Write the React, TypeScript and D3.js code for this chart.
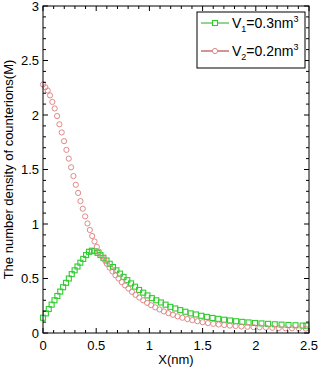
import React from "react";
import * as d3 from "d3";

// V1 = 0.3 nm^3 (green squares)
const v1X = [0, 0.027, 0.054, 0.081, 0.108, 0.135, 0.162, 0.189, 0.216, 0.243, 0.27, 0.297, 0.324, 0.351, 0.378, 0.405, 0.432, 0.459, 0.486, 0.513, 0.54, 0.568, 0.597, 0.627, 0.658, 0.69, 0.723, 0.757, 0.792, 0.828, 0.865, 0.903, 0.942, 0.982, 1.023, 1.065, 1.108, 1.152, 1.197, 1.243, 1.29, 1.338, 1.387, 1.437, 1.488, 1.54, 1.593, 1.647, 1.702, 1.758, 1.815, 1.873, 1.932, 1.992, 2.053, 2.115, 2.178, 2.242, 2.307, 2.373, 2.44, 2.475];
const v1Y = [0.14, 0.18, 0.22, 0.26, 0.3, 0.34, 0.38, 0.42, 0.46, 0.5, 0.54, 0.575, 0.61, 0.645, 0.68, 0.715, 0.745, 0.755, 0.75, 0.735, 0.715, 0.69, 0.665, 0.635, 0.605, 0.575, 0.545, 0.515, 0.485, 0.455, 0.425, 0.395, 0.37, 0.345, 0.32, 0.3, 0.28, 0.26, 0.24, 0.225, 0.21, 0.195, 0.18, 0.17, 0.158, 0.148, 0.138, 0.13, 0.122, 0.115, 0.108, 0.102, 0.097, 0.092, 0.088, 0.084, 0.08, 0.077, 0.074, 0.071, 0.068, 0.067];

// V2 = 0.2 nm^3 (red circles)
const v2X = [0, 0.022, 0.044, 0.066, 0.088, 0.11, 0.132, 0.154, 0.176, 0.198, 0.22, 0.242, 0.264, 0.286, 0.308, 0.33, 0.352, 0.374, 0.396, 0.418, 0.44, 0.462, 0.484, 0.506, 0.528, 0.551, 0.575, 0.6, 0.626, 0.653, 0.681, 0.71, 0.74, 0.771, 0.803, 0.836, 0.87, 0.905, 0.941, 0.978, 1.016, 1.055, 1.095, 1.136, 1.178, 1.221, 1.265, 1.31, 1.356, 1.403, 1.451, 1.5, 1.55, 1.6, 1.651, 1.703, 1.756, 1.81, 1.865, 1.921, 1.978, 2.036, 2.095, 2.155, 2.216, 2.278, 2.341, 2.405, 2.47];
const v2Y = [2.28, 2.255, 2.225, 2.18, 2.12, 2.06, 1.99, 1.915, 1.84, 1.76, 1.68, 1.6, 1.52, 1.44, 1.36, 1.285, 1.21, 1.14, 1.07, 1.005, 0.945, 0.89, 0.84, 0.79, 0.745, 0.707, 0.672, 0.635, 0.6, 0.565, 0.53, 0.5, 0.467, 0.437, 0.408, 0.378, 0.35, 0.325, 0.3, 0.277, 0.255, 0.235, 0.216, 0.198, 0.182, 0.167, 0.153, 0.14, 0.128, 0.118, 0.108, 0.099, 0.091, 0.084, 0.078, 0.073, 0.068, 0.064, 0.06, 0.057, 0.054, 0.052, 0.05, 0.048, 0.046, 0.044, 0.043, 0.041, 0.04];

const xTicks = [0, 0.5, 1, 1.5, 2, 2.5];
const yTicks = [0, 0.5, 1, 1.5, 2, 2.5, 3];

const W = 326;
const H = 374;
const margin = { top: 6, right: 17, bottom: 41, left: 43 };
const font = "'Liberation Sans', Arial, sans-serif";

export default function App() {
  const x = d3.scaleLinear().domain([0, 2.5]).range([margin.left, W - margin.right]);
  const y = d3.scaleLinear().domain([0, 3]).range([H - margin.bottom, margin.top]);
  const [x0, x1] = x.range();
  const [y0, y1] = y.range();

  const xMinor = d3.range(0, 2.5001, 0.1);
  const yMinor = d3.range(0, 3.0001, 0.1);

  const green = "#2fcc2f";
  const pink = "#e08a8a";

  return (
    <svg width={W} height={H} style={{ position: "absolute", left: 0, top: 0, background: "#fff" }} fontFamily={font}>
      {/* markers */}
      <g fill="none" stroke={green} strokeWidth={1.1}>
        {v1X.map((v, i) => (
          <rect key={i} x={x(v) - 2.5} y={y(v1Y[i]) - 2.5} width={5} height={5} />
        ))}
      </g>
      <g fill="none" stroke={pink} strokeWidth={1}>
        {v2X.map((v, i) => (
          <circle key={i} cx={x(v)} cy={y(v2Y[i])} r={2.6} />
        ))}
      </g>

      {/* frame */}
      <rect x={x0} y={y1} width={x1 - x0} height={y0 - y1} fill="none" stroke="#000" strokeWidth={1} />
      <g stroke="#000" strokeWidth={1}>
        {xMinor.map((t, i) => {
          const len = xTicks.some((m) => Math.abs(m - t) < 1e-6) ? 5 : 3;
          return (
            <g key={i}>
              <line x1={x(t)} x2={x(t)} y1={y0} y2={y0 - len} />
              <line x1={x(t)} x2={x(t)} y1={y1} y2={y1 + len} />
            </g>
          );
        })}
        {yMinor.map((t, i) => {
          const len = yTicks.some((m) => Math.abs(m - t) < 1e-6) ? 5 : 3;
          return (
            <g key={i}>
              <line x1={x0} x2={x0 + len} y1={y(t)} y2={y(t)} />
              <line x1={x1} x2={x1 - len} y1={y(t)} y2={y(t)} />
            </g>
          );
        })}
      </g>

      {/* tick labels */}
      <g fontSize={13} fill="#000">
        {xTicks.map((t) => (
          <text key={t} x={x(t)} y={y0 + 17} textAnchor="middle">{String(t)}</text>
        ))}
        {yTicks.map((t) => (
          <text key={t} x={x0 - 4} y={y(t) + 4.5} textAnchor="end">{String(t)}</text>
        ))}
      </g>

      {/* axis labels */}
      <text x={(x0 + x1) / 2} y={H - 10} textAnchor="middle" fontSize={13}>X(nm)</text>
      <text transform={`translate(13, ${(y0 + y1) / 2}) rotate(-90)`} textAnchor="middle" fontSize={13}>
        The number density of counterions(M)
      </text>

      {/* legend */}
      <g>
        <rect x={197} y={12} width={108} height={56} fill="#fff" stroke="#000" strokeWidth={1} />
        <line x1={201} x2={229} y1={23} y2={23} stroke="#22aa22" strokeWidth={1} />
        <rect x={212.5} y={20.5} width={5} height={5} fill="#fff" stroke={green} strokeWidth={1.1} />
        <text x={232} y={28} fontSize={14}>
          V<tspan fontSize={9} dy={4}>1</tspan>
          <tspan dy={-4}>=0.3nm</tspan>
          <tspan fontSize={9} dy={-6}>3</tspan>
        </text>
        <line x1={201} x2={229} y1={51} y2={51} stroke="#a52a2a" strokeWidth={1} />
        <circle cx={215} cy={51} r={2.6} fill="#fff" stroke={pink} strokeWidth={1} />
        <text x={232} y={56} fontSize={14}>
          V<tspan fontSize={9} dy={4}>2</tspan>
          <tspan dy={-4}>=0.2nm</tspan>
          <tspan fontSize={9} dy={-6}>3</tspan>
        </text>
      </g>
    </svg>
  );
}
